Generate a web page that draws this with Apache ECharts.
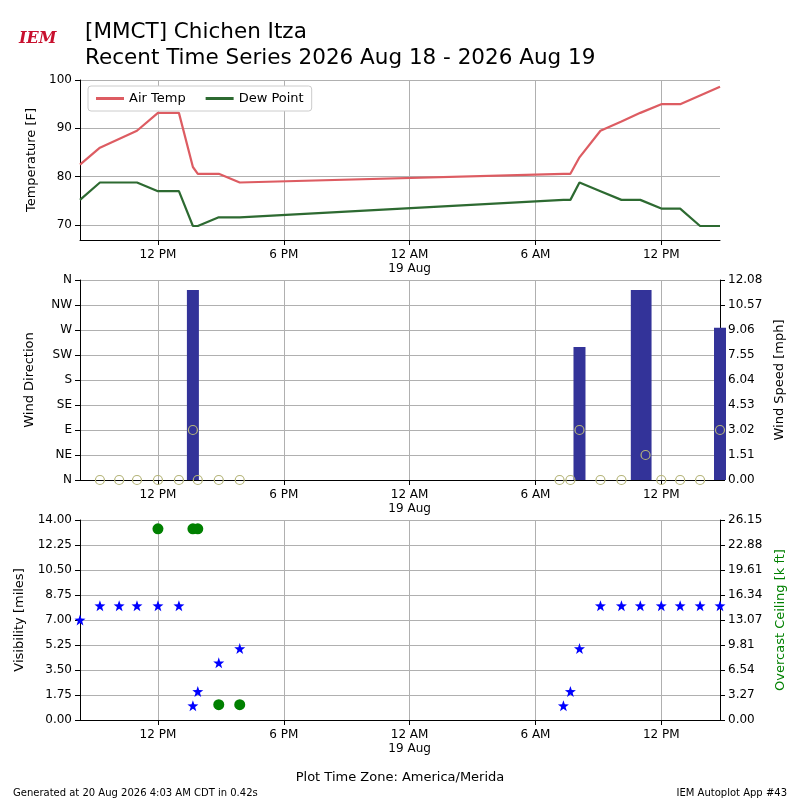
<!DOCTYPE html>
<html>
<head>
<meta charset="utf-8">
<script src="https://cdn.jsdelivr.net/npm/echarts@6/dist/echarts.min.js"></script>
<style>
  html, body { margin: 0; padding: 0; background: #fff; }
  #main { width: 800px; height: 800px; }
</style>
</head>
<body>
<div id="main"></div>
<script>
// times are local station time, kept as UTC numbers and formatted with UTC getters
function t(d, h, m) { return Date.UTC(2026, 7, d, h, m); }

var axisMin = t(18, 8, 17);
var axisMax = t(19, 14, 48);

// temperature / dew point
var tempTimes = [t(18,8,17), t(18,9,14), t(18,11,0), t(18,12,0), t(18,13,0), t(18,13,40), t(18,13,54), t(18,14,54), t(18,15,54),
                 t(19,7,20), t(19,7,40), t(19,8,6), t(19,9,6), t(19,10,6), t(19,11,0), t(19,12,0), t(19,12,54), t(19,13,51), t(19,14,48)];
var airTemp = [82.5, 86, 89.5, 93.2, 93.2, 82, 80.6, 80.6, 78.8, 80.6, 80.6, 84, 89.5, 91.4, 93.2, 95, 95, 96.8, 98.6];
var dewPoint = [75.2, 78.8, 78.8, 77, 77, 69.8, 69.8, 71.6, 71.6, 75.2, 75.2, 78.8, 77, 75.2, 75.2, 73.4, 73.4, 69.8, 69.8];

// wind
var windTimes = [t(18,9,14), t(18,10,9), t(18,11,0), t(18,12,0), t(18,13,0), t(18,13,40), t(18,13,54), t(18,14,54), t(18,15,54),
                 t(19,7,9), t(19,7,40), t(19,8,6), t(19,9,6), t(19,10,6), t(19,10,50), t(19,11,15), t(19,12,0), t(19,12,54), t(19,13,51), t(19,14,48)];
var windDir = [0, 0, 0, 0, 0, 90, 0, 0, 0, 0, 0, 90, 0, 0, null, 45, 0, 0, 0, 90];
var windSpeed = [0, 0, 0, 0, 0, 11.47, 0, 0, 0, 0, 0, 8.03, 0, 0, 11.47, 11.47, 0, 0, 0, 9.2];
var dirLabels = ['N', 'NE', 'E', 'SE', 'S', 'SW', 'W', 'NW', 'N'];

// visibility / ceiling
var visTimes = [t(18,8,17), t(18,9,14), t(18,10,9), t(18,11,0), t(18,12,0), t(18,13,0), t(18,13,40), t(18,13,54), t(18,14,54), t(18,15,54),
                t(19,7,20), t(19,7,40), t(19,8,6), t(19,9,6), t(19,10,6), t(19,11,0), t(19,12,0), t(19,12,54), t(19,13,51), t(19,14,48)];
var visibility = [7, 8, 8, 8, 8, 8, 1, 2, 4, 5, 1, 2, 5, 8, 8, 8, 8, 8, 8, 8];
var ceilTimes = [t(18,12,0), t(18,13,40), t(18,13,54), t(18,14,54), t(18,15,54)];
var ceiling = [25, 25, 25, 2, 2];

var xTicks = [t(18,12,0), t(18,18,0), t(19,0,0), t(19,6,0), t(19,12,0)];

function zip(a, b) { return a.map(function (v, i) { return [v, b[i]]; }); }

function xFmt(v) {
  var d = new Date(v);
  var h = d.getUTCHours();
  var s = (h % 12 == 0 ? 12 : h % 12) + (h < 12 ? ' AM' : ' PM');
  if (h == 0) s += '\n' + d.getUTCDate() + ' Aug';
  return s;
}

var font = 'DejaVu Sans';
var gridLine = { show: true, lineStyle: { color: '#b0b0b0', width: 1 } };
var axLine = { show: true, lineStyle: { color: '#000' } };

function xAxis(idx) {
  return {
    type: 'value', gridIndex: idx, min: axisMin, max: axisMax,
    axisLine: axLine, axisTick: { show: true, customValues: xTicks, lineStyle: { color: '#000' } },
    axisLabel: { customValues: xTicks, formatter: xFmt, color: '#000', fontFamily: font, fontSize: 12, lineHeight: 14 },
    splitLine: gridLine
  };
}

function yAx(idx, opt) {
  var base = {
    type: 'value', gridIndex: idx, axisLine: axLine,
    axisTick: { show: true, lineStyle: { color: '#000' } },
    axisLabel: { color: '#000', fontFamily: font, fontSize: 12 },
    nameLocation: 'middle', nameTextStyle: { color: '#000', fontFamily: font, fontSize: 13 },
    splitLine: { show: false }
  };
  for (var k in opt) base[k] = opt[k];
  return base;
}

// calm reports get no bar
var windBars = zip(windTimes, windSpeed).filter(function (p) { return p[1] > 0; });

var chart = echarts.init(document.getElementById('main'));
chart.setOption({
  backgroundColor: '#fff',
  animation: false,
  textStyle: { fontFamily: font },
  title: [
    { text: '[MMCT] Chichen Itza\nRecent Time Series 2026 Aug 18 - 2026 Aug 19', left: 80, top: 14,
      textStyle: { fontSize: 21.5, fontWeight: 'normal', color: '#000', lineHeight: 26, fontFamily: font } },
    { text: 'IEM', left: 14, top: 26, textStyle: { fontSize: 16, fontStyle: 'italic', fontFamily: 'DejaVu Serif', color: '#c8102e' } },
    { text: 'Generated at 20 Aug 2026 4:03 AM CDT in 0.42s', left: 8, top: 783, textStyle: { fontSize: 10, fontWeight: 'normal', color: '#000' } },
    { text: 'IEM Autoplot App #43', right: 8, top: 783, textStyle: { fontSize: 10, fontWeight: 'normal', color: '#000' } },
    { text: 'Plot Time Zone: America/Merida', left: 'center', top: 766, textStyle: { fontSize: 13, fontWeight: 'normal', color: '#000' } }
  ],
  legend: {
    left: 88, top: 86, itemWidth: 28, itemHeight: 3, itemGap: 20,
    backgroundColor: '#fff', borderColor: '#ccc', borderWidth: 1, borderRadius: 3, padding: [6, 8],
    textStyle: { fontSize: 13, color: '#000', fontFamily: font },
    data: [{ name: 'Air Temp', icon: 'rect' }, { name: 'Dew Point', icon: 'rect' }]
  },
  grid: [
    { left: 80, right: 80, top: 80, height: 160 },
    { left: 80, right: 80, top: 280, height: 200 },
    { left: 80, right: 80, top: 520, height: 200 }
  ],
  xAxis: [xAxis(0), xAxis(1), xAxis(2)],
  yAxis: [
    yAx(0, { min: 66.9, max: 100, name: 'Temperature [F]', nameGap: 40,
      axisTick: { show: true, customValues: [70, 80, 90, 100], lineStyle: { color: '#000' } },
      axisLabel: { customValues: [70, 80, 90, 100], color: '#000', fontFamily: font, fontSize: 12 },
      splitLine: gridLine }),
    yAx(1, { min: 0, max: 360, interval: 45, name: 'Wind Direction', nameGap: 44,
      axisLabel: { color: '#000', fontFamily: font, fontSize: 12, formatter: function (v) { return dirLabels[v / 45]; } },
      splitLine: gridLine }),
    yAx(1, { min: 0, max: 12.08, interval: 1.51, position: 'right', name: 'Wind Speed [mph]', nameGap: 48,
      axisLabel: { color: '#000', fontFamily: font, fontSize: 12, formatter: function (v) { return v.toFixed(2); } } }),
    yAx(2, { min: 0, max: 14, interval: 1.75, name: 'Visibility [miles]', nameGap: 54,
      axisLabel: { color: '#000', fontFamily: font, fontSize: 12, formatter: function (v) { return v.toFixed(2); } },
      splitLine: gridLine }),
    yAx(2, { min: 0, max: 26.15, interval: 26.15 / 8, position: 'right', name: 'Overcast Ceiling [k ft]', nameGap: 54,
      nameTextStyle: { color: 'green', fontFamily: font, fontSize: 13 },
      axisLabel: { color: '#000', fontFamily: font, fontSize: 12, formatter: function (v) { return v.toFixed(2); } } })
  ],
  series: [
    { name: 'Air Temp', type: 'line', xAxisIndex: 0, yAxisIndex: 0, data: zip(tempTimes, airTemp),
      showSymbol: false, lineStyle: { color: '#dd5c62', width: 2.2 }, itemStyle: { color: '#dd5c62' } },
    { name: 'Dew Point', type: 'line', xAxisIndex: 0, yAxisIndex: 0, data: zip(tempTimes, dewPoint),
      showSymbol: false, lineStyle: { color: '#2d6a31', width: 2.2 }, itemStyle: { color: '#2d6a31' } },
    { name: 'Wind Speed', type: 'bar', xAxisIndex: 1, yAxisIndex: 2, data: windBars,
      barWidth: 12, itemStyle: { color: '#333399' } },
    { name: 'Wind Dir', type: 'scatter', xAxisIndex: 1, yAxisIndex: 1, data: zip(windTimes, windDir),
      symbol: 'circle', symbolSize: 9, clip: false, z: 5,
      itemStyle: { color: 'rgba(0,0,0,0)', borderColor: '#b5b57a', borderWidth: 1.2, opacity: 1 } },
    { name: 'Visibility', type: 'scatter', xAxisIndex: 2, yAxisIndex: 3, data: zip(visTimes, visibility),
      symbol: 'path://M0,-10 L2.35,-3.24 L9.51,-3.09 L3.8,1.24 L5.88,8.09 L0,4 L-5.88,8.09 L-3.8,1.24 L-9.51,-3.09 L-2.35,-3.24 Z',
      symbolSize: 11, clip: false, itemStyle: { color: '#0000ff', opacity: 1 } },
    { name: 'Ceiling', type: 'scatter', xAxisIndex: 2, yAxisIndex: 4, data: zip(ceilTimes, ceiling),
      symbolSize: 11, itemStyle: { color: 'green', opacity: 1 } }
  ]
});
</script>
</body>
</html>
